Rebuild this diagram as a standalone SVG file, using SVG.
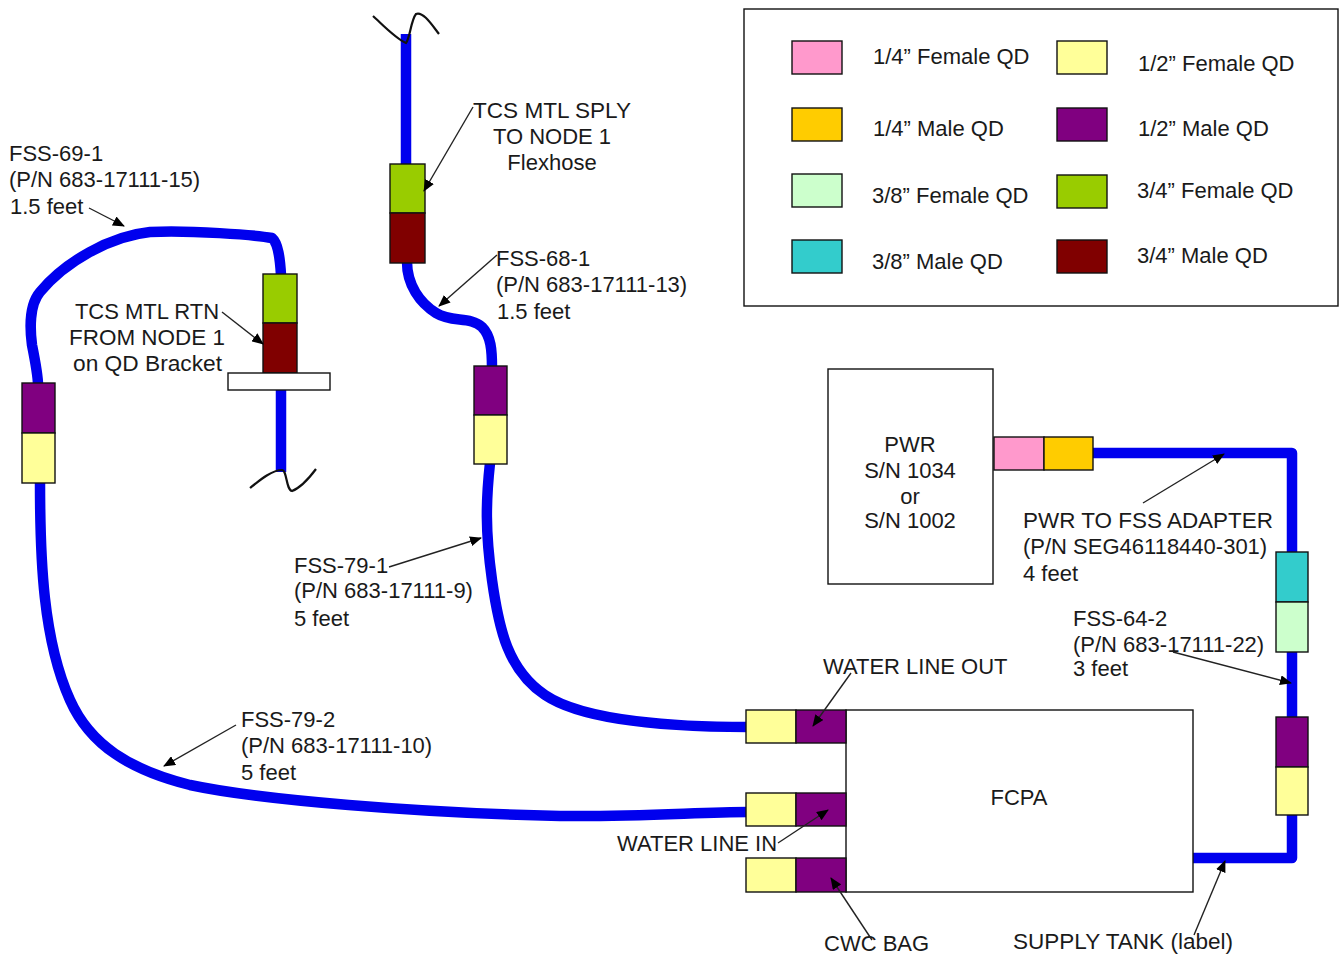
<svg xmlns="http://www.w3.org/2000/svg" width="1339" height="955" viewBox="0 0 1339 955">
<defs>
<marker id="ah" markerUnits="userSpaceOnUse" markerWidth="12" markerHeight="10" refX="11" refY="5" orient="auto"><path d="M0 0L12 5L0 10z" fill="#000"/></marker>
</defs>
<style>
text{font-family:"Liberation Sans",Arial,sans-serif;font-size:22px;fill:#1a1a1a}
.m{text-anchor:middle}
.h{fill:none;stroke:#0000ee;stroke-width:10.5;stroke-linejoin:round}
.q{stroke:#111;stroke-width:1.4}
.n{fill:#fff;stroke:#111;stroke-width:1.4}
.l{fill:none;stroke:#222;stroke-width:1.4;marker-end:url(#ah)}
.w{fill:none;stroke:#111;stroke-width:2.2}
.pk{fill:#ff99cc}.or{fill:#ffcc00}.lg{fill:#ccffcc}.te{fill:#33cccc}.ye{fill:#ffff99}.pu{fill:#800080}.gr{fill:#99cc00}.ma{fill:#800000}
</style>
<rect width="1339" height="955" fill="#fff"/>
<g id="hoses">
<path class="h" d="M406 34V165"/>
<path class="h" d="M407 262C407 285 420 303 436 313C452 323 470 316 482 327C491 336 492 350 492 368"/>
<path class="h" d="M490 463C486 500 485 530 492 580C499 630 508 670 545 695C585 722 680 727 748 727"/>
<path class="h" d="M281 275C280 258 278 243 272 238C255 235 190 230 150 232C110 236 65 262 40 292C29 305 30 330 32 345C36 365 38 375 38 385"/>
<path class="h" d="M40 482C40 560 43 640 70 700C90 745 130 770 190 785C260 800 420 813 560 816C640 817 700 812 748 812"/>
<path class="h" d="M281 390V472"/>
<path class="h" d="M1093 453H1292V555"/>
<path class="h" d="M1292 650V720"/>
<path class="h" d="M1292 814V858H1192"/>
<path class="w" d="M373 16C383 25 395 38 406 43C410 38 411 20 416 14C423 11 432 25 439 34"/>
<path class="w" d="M250 488C260 480 272 470 282 470C287 470 286 490 292 491C300 488 310 477 316 469"/>
</g>
<g id="legend">
<rect class="n" x="744" y="9" width="594" height="297"/>
<rect class="q pk" x="792" y="41" width="50" height="33"/>
<rect class="q or" x="792" y="108" width="50" height="33"/>
<rect class="q lg" x="792" y="174" width="50" height="33"/>
<rect class="q te" x="792" y="240" width="50" height="33"/>
<rect class="q ye" x="1057" y="41" width="50" height="33"/>
<rect class="q pu" x="1057" y="108" width="50" height="33"/>
<rect class="q gr" x="1057" y="175" width="50" height="33"/>
<rect class="q ma" x="1057" y="240" width="50" height="33"/>
<text x="873" y="64">1/4” Female QD</text>
<text x="873" y="136">1/4” Male QD</text>
<text x="872" y="203">3/8” Female QD</text>
<text x="872" y="269">3/8” Male QD</text>
<text x="1138" y="71">1/2” Female QD</text>
<text x="1138" y="136">1/2” Male QD</text>
<text x="1137" y="198">3/4” Female QD</text>
<text x="1137" y="263">3/4” Male QD</text>
</g>
<g id="qd-tcs-sply">
<rect class="q gr" x="390" y="164" width="35" height="49"/>
<rect class="q ma" x="390" y="213" width="35" height="50"/>
<text x="473" y="118" textLength="158" lengthAdjust="spacingAndGlyphs">TCS MTL SPLY</text>
<text class="m" x="552" y="144">TO NODE 1</text>
<text class="m" x="552" y="170">Flexhose</text>
</g>
<g id="qd-tcs-rtn">
<rect class="q gr" x="263" y="274" width="34" height="49"/>
<rect class="q ma" x="263" y="323" width="34" height="50"/>
<rect class="n" x="228" y="373" width="102" height="17"/>
<text class="m" x="147" y="319">TCS MTL RTN</text>
<text x="69" y="345" textLength="156" lengthAdjust="spacingAndGlyphs">FROM NODE 1</text>
<text x="73" y="371" textLength="149" lengthAdjust="spacingAndGlyphs">on QD Bracket</text>
</g>
<g id="fss-69-1">
<rect class="q pu" x="22" y="383" width="33" height="50"/>
<rect class="q ye" x="22" y="433" width="33" height="50"/>
<text x="9" y="161">FSS-69-1</text>
<text x="9" y="187">(P/N 683-17111-15)</text>
<text x="10" y="214">1.5 feet</text>
</g>
<g id="fss-68-1">
<rect class="q pu" x="474" y="366" width="33" height="49"/>
<rect class="q ye" x="474" y="415" width="33" height="49"/>
<text x="496" y="266">FSS-68-1</text>
<text x="496" y="292">(P/N 683-17111-13)</text>
<text x="497" y="319">1.5 feet</text>
</g>
<g id="fss-79-1">
<text x="294" y="573">FSS-79-1</text>
<text x="294" y="598">(P/N 683-17111-9)</text>
<text x="294" y="626">5 feet</text>
</g>
<g id="fss-79-2">
<text x="241" y="727">FSS-79-2</text>
<text x="241" y="753">(P/N 683-17111-10)</text>
<text x="241" y="780">5 feet</text>
</g>
<g id="pwr">
<rect class="n" x="828" y="369" width="165" height="215"/>
<text class="m" x="910" y="452">PWR</text>
<text class="m" x="910" y="478">S/N 1034</text>
<text class="m" x="910" y="504">or</text>
<text class="m" x="910" y="528">S/N 1002</text>
<rect class="q pk" x="994" y="437" width="50" height="33"/>
<rect class="q or" x="1044" y="437" width="49" height="33"/>
<text x="1023" y="528" textLength="250" lengthAdjust="spacingAndGlyphs">PWR TO FSS ADAPTER</text>
<text x="1023" y="554">(P/N SEG46118440-301)</text>
<text x="1023" y="581">4 feet</text>
</g>
<g id="fss-64-2">
<rect class="q te" x="1276" y="552" width="32" height="50"/>
<rect class="q lg" x="1276" y="602" width="32" height="50"/>
<rect class="q pu" x="1276" y="717" width="32" height="50"/>
<rect class="q ye" x="1276" y="767" width="32" height="48"/>
<text x="1073" y="626">FSS-64-2</text>
<text x="1073" y="652">(P/N 683-17111-22)</text>
<text x="1073" y="676">3 feet</text>
</g>
<g id="fcpa">
<rect class="n" x="846" y="710" width="347" height="182"/>
<text class="m" x="1019" y="805">FCPA</text>
<rect class="q ye" x="746" y="710" width="50" height="33"/>
<rect class="q pu" x="796" y="710" width="50" height="33"/>
<rect class="q ye" x="746" y="793" width="50" height="33"/>
<rect class="q pu" x="796" y="793" width="50" height="33"/>
<rect class="q ye" x="746" y="858" width="50" height="34"/>
<rect class="q pu" x="796" y="858" width="50" height="34"/>
<text x="823" y="674">WATER LINE OUT</text>
<text x="617" y="851">WATER LINE IN</text>
<text x="824" y="951">CWC BAG</text>
<text x="1013" y="949" textLength="220" lengthAdjust="spacingAndGlyphs">SUPPLY TANK (label)</text>
</g>
<g id="connectors">
<path class="l" d="M473 107L424 191"/>
<path class="l" d="M497 255L439 306"/>
<path class="l" d="M89 208L124 226"/>
<path class="l" d="M222 312L263 344"/>
<path class="l" d="M389 567L481 538"/>
<path class="l" d="M236 725L164 766"/>
<path class="l" d="M1143 503L1224 454"/>
<path class="l" d="M1173 652L1291 683"/>
<path class="l" d="M851 673L813 726"/>
<path class="l" d="M778 843L828 810"/>
<path class="l" d="M872 940L831 878"/>
<path class="l" d="M1194 935L1225 861"/>
</g>
</svg>
